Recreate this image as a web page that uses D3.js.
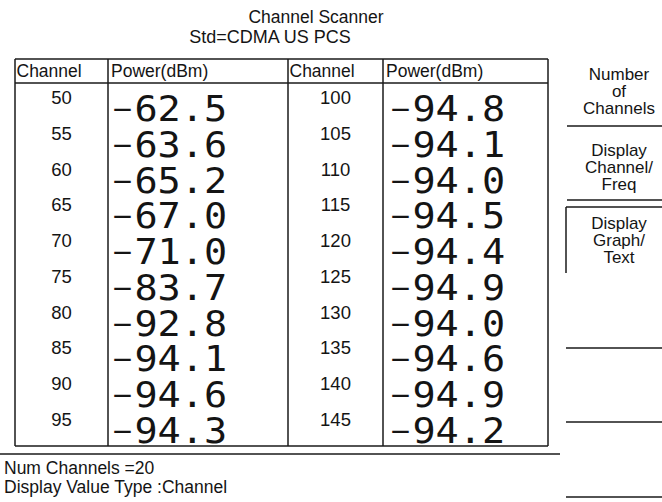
<!DOCTYPE html>
<html>
<head>
<meta charset="utf-8">
<script src="https://cdn.jsdelivr.net/npm/d3@7"></script>
<style>
  body { margin: 0; background: #fff; }
  svg { display: block; }
  text { font-family: 'Liberation Sans', Arial, sans-serif; fill: #141414; }
  .val { font-family: 'DejaVu Sans Mono', monospace; }
</style>
</head>
<body>
<svg id="chart" width="662" height="502"></svg>
<script>
// channel numbers, left and right table halves
const channelsLeft = [50, 55, 60, 65, 70, 75, 80, 85, 90, 95]
const channelsRight = [100, 105, 110, 115, 120, 125, 130, 135, 140, 145]
// measured power in dBm
const powerLeft = [-62.5, -63.6, -65.2, -67.0, -71.0, -83.7, -92.8, -94.1, -94.6, -94.3]
const powerRight = [-94.8, -94.1, -94.0, -94.5, -94.4, -94.9, -94.0, -94.6, -94.9, -94.2]
// labels
const titleLines = ['Channel Scanner', 'Std=CDMA US PCS']
const headers = ['Channel', 'Power(dBm)']
const softKeys = [['Number', 'of', 'Channels'], ['Display', 'Channel/', 'Freq'], ['Display', 'Graph/', 'Text']]
const footer = ['Num Channels =20', 'Display Value Type :Channel']

let svg = d3.select('#chart')
let fmt = d3.format('.1f')

// row index -> baseline of the big value
let y = d3.scaleLinear().domain([0, 9]).range([121, 443])

let lineCol = '#1a1a1a'
let hline = (x1, x2, yy, w) => svg.append('line')
  .attr('x1', x1).attr('x2', x2).attr('y1', yy).attr('y2', yy)
  .attr('stroke', lineCol).attr('stroke-width', w || 1.5)
let vline = (xx, y1, y2, w) => svg.append('line')
  .attr('x1', xx).attr('x2', xx).attr('y1', y1).attr('y2', y2)
  .attr('stroke', lineCol).attr('stroke-width', w || 1.5)

// title
svg.append('text').attr('x', 316).attr('y', 23).attr('text-anchor', 'middle')
  .style('font-size', '17.5px').text(titleLines[0])
svg.append('text').attr('x', 270).attr('y', 43).attr('text-anchor', 'middle')
  .style('font-size', '18px').text(titleLines[1])

// table frame
let tTop = 59, headBottom = 83, tBottom = 446
let cols = [15, 108, 288, 383, 548]
hline(cols[0], cols[4], tTop)
hline(cols[0], cols[4], headBottom)
hline(cols[0], cols[4], tBottom)
cols.forEach((c) => vline(c, tTop, tBottom))
hline(0, 560, 454)

// header texts
;[[cols[0], cols[1]], [cols[2], cols[3]]].forEach((pair) => {
  svg.append('text').attr('x', pair[0] + 1.5).attr('y', 77)
    .style('font-size', '17.5px').text(headers[0])
  svg.append('text').attr('x', pair[1] + 3).attr('y', 77)
    .style('font-size', '17.5px').text(headers[1])
})

// table body
let halves = [
  {ch: channelsLeft, pw: powerLeft, cx: (cols[0] + cols[1]) / 2, vx: cols[1] + 5},
  {ch: channelsRight, pw: powerRight, cx: (cols[2] + cols[3]) / 2, vx: cols[3] + 8}
]
halves.forEach((h) => {
  let g = svg.append('g')
  g.selectAll('text.ch').data(h.ch).enter().append('text')
    .attr('class', 'ch')
    .attr('x', h.cx).attr('y', (d, i) => y(i) - 17)
    .attr('text-anchor', 'middle')
    .style('font-size', '18.5px')
    .text((d) => d)
  let v = g.selectAll('text.val').data(h.pw).enter().append('text')
    .attr('class', 'val')
    .attr('transform', (d, i) => 'translate(' + h.vx + ',' + y(i) + ') scale(1.1,1)')
    .style('font-size', '35px')
  // sign a bit smaller than the digits, as on the instrument screen
  v.append('tspan').style('font-size', '29px').attr('dy', -2)
    .text((d) => d < 0 ? '\u2212' : '')
  v.append('tspan').attr('dy', 2).attr('dx', 2)
    .text((d) => fmt(Math.abs(d)))
})

// soft keys on the right
let keyX = 619
let keyBase = [80, 156, 229]
softKeys.forEach((k, j) => {
  k.forEach((t, i) => {
    svg.append('text').attr('x', keyX).attr('y', keyBase[j] + i * 17)
      .attr('text-anchor', 'middle').style('font-size', '17px').text(t)
  })
})
hline(567, 662, 126)
hline(567, 662, 200)
hline(566, 662, 207)
vline(566, 207, 273)
hline(566, 662, 348)
hline(566, 662, 422)
hline(566, 662, 497)

// footer
svg.append('text').attr('x', 4).attr('y', 474).style('font-size', '17.5px').text(footer[0])
svg.append('text').attr('x', 4).attr('y', 493).style('font-size', '17.5px').text(footer[1])
</script>
</body>
</html>
